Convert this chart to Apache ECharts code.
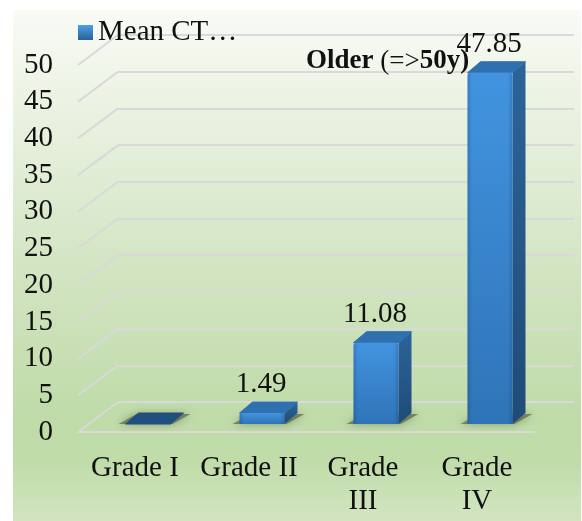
<!DOCTYPE html>
<html>
<head>
<meta charset="utf-8">
<style>
html, body { margin: 0; padding: 0; background: #fff; }
#chart { width: 582px; height: 521px; }
</style>
<script src="https://cdn.jsdelivr.net/npm/echarts@6/dist/echarts.min.js"></script>
</head>
<body>
<div id="chart"></div>
<script>
let categories = ['Grade I', 'Grade II', 'Grade\nIII', 'Grade\nIV'];
let meanCt = [0, 1.49, 11.08, 47.85];
let valueTicks = [0, 5, 10, 15, 20, 25, 30, 35, 40, 45, 50];
let seriesName = 'Mean CT…';

let fontName = '"Liberation Serif", "Times New Roman", serif';
let wallDx = 40, wallDy = -30;   // shift of the back wall
let barDx = 13, barDy = -8;      // bar front face, from the category centre
let depthDx = 13, depthDy = -11; // depth of one bar
let barWidth = 45;
let grad = echarts.graphic.LinearGradient;

let myChart = echarts.init(document.getElementById('chart'));

let renderWall = function(params, api) {
    let p = api.coord([0, api.value(0)]);
    let x = p[0] - api.size([1, 0])[0] / 2;
    return {
        type: 'line',
        shape: { x1: x, y1: p[1], x2: x + wallDx, y2: p[1] + wallDy },
        style: { stroke: '#d9d9d9', lineWidth: 2 }
    };
};

let renderBar = function(params, api) {
    let value = api.value(1);
    let base = api.coord([api.value(0), 0]);
    let top = api.coord([api.value(0), value]);
    let h = base[1] - top[1];
    let x0 = base[0] + barDx - barWidth / 2;
    let x1 = x0 + barWidth;
    let yb = base[1] + barDy;
    let yt = yb - h;
    let children = [];

    // soft shadow on the floor
    children.push({
        type: 'polygon',
        shape: { points: [[x0 - 7, yb], [x1 + 2, yb], [x1 + depthDx + 7, yb + depthDy + 1], [x0 + depthDx - 2, yb + depthDy + 1]] },
        style: { fill: 'rgba(75,85,55,0.6)', shadowBlur: 8, shadowColor: 'rgba(70,80,50,0.8)' }
    });

    if (h < 1) {
        children.push({
            type: 'polygon',
            shape: { points: [[x0, yb], [x1, yb], [x1 + depthDx, yb + depthDy], [x0 + depthDx, yb + depthDy]] },
            style: { fill: '#214f80', stroke: '#214f80', lineWidth: 1, lineJoin: 'round' }
        });
        return { type: 'group', children: children };
    }

    children.push({
        type: 'polygon',
        shape: { points: [[x1, yb], [x1, yt], [x1 + depthDx, yt + depthDy], [x1 + depthDx, yb + depthDy]] },
        style: { fill: new grad(0, 0, 0, 1, [{ offset: 0, color: '#2c6498' }, { offset: 1, color: '#1f4b78' }]) }
    });
    children.push({
        type: 'polygon',
        shape: { points: [[x0, yt], [x1, yt], [x1 + depthDx, yt + depthDy], [x0 + depthDx, yt + depthDy]] },
        style: { fill: '#2f70b0', stroke: '#2f70b0', lineWidth: 1, lineJoin: 'round' }
    });
    children.push({
        type: 'rect',
        shape: { x: x0, y: yt, width: barWidth, height: h, r: [3, 3, 0, 0] },
        style: { fill: new grad(0, 0, 0, 1, [{ offset: 0, color: '#4294e0' }, { offset: 1, color: '#2f74b8' }]) }
    });
    children.push({
        type: 'rect',
        shape: { x: x0, y: yt, width: barWidth, height: h, r: [3, 3, 0, 0] },
        style: {
            fill: new grad(0, 0, 1, 0, [
                { offset: 0, color: 'rgba(10,40,80,0.22)' },
                { offset: 0.1, color: 'rgba(10,40,80,0)' },
                { offset: 0.9, color: 'rgba(10,40,80,0)' },
                { offset: 1, color: 'rgba(10,40,80,0.22)' }
            ])
        }
    });
    children.push({
        type: 'text',
        style: {
            text: String(value),
            x: base[0] + barDx - 1,
            y: yt + depthDy - 3,
            align: 'center',
            verticalAlign: 'bottom',
            fill: '#111',
            font: '29px ' + fontName
        }
    });
    return { type: 'group', children: children };
};

let options = {
    animation: false,
    backgroundColor: '#fff',
    textStyle: { fontFamily: fontName },
    graphic: [
        {
            type: 'rect',
            z: -10,
            shape: { x: 13, y: 10, width: 568, height: 511 },
            style: {
                fill: new grad(0, 0, 0, 1, [
                    { offset: 0, color: '#f9fbf6' },
                    { offset: 0.25, color: '#e6f0dc' },
                    { offset: 0.5, color: '#d3e5c3' },
                    { offset: 0.8, color: '#bfdba8' },
                    { offset: 0.88, color: '#c0dca9' },
                    { offset: 1, color: '#d2e5c0' }
                ])
            }
        },
        {
            type: 'text',
            z: 10,
            x: 306,
            y: 48,
            style: {
                text: '{b|Older }{n|(=>}{b|50y)}',
                rich: {
                    b: { fontFamily: fontName, fontSize: 27, fontWeight: 'bold', fill: '#111' },
                    n: { fontFamily: fontName, fontSize: 27, fill: '#111' }
                }
            }
        }
    ],
    legend: {
        left: 73,
        top: 13,
        data: [seriesName],
        icon: 'rect',
        itemWidth: 15,
        itemHeight: 15,
        itemGap: 7,
        textStyle: { fontFamily: fontName, fontSize: 29, color: '#111' }
    },
    grid: [
        { left: 78, top: 65, width: 456, height: 367 },
        { left: 118, top: 35, width: 456, height: 367 }
    ],
    xAxis: [
        {
            type: 'category',
            gridIndex: 0,
            data: categories,
            axisLine: { lineStyle: { color: '#d9d9d9', width: 2 } },
            axisTick: { show: false },
            axisLabel: { color: '#111', fontFamily: fontName, fontSize: 29, margin: 20, lineHeight: 33, interval: 0 }
        },
        {
            type: 'category',
            gridIndex: 1,
            data: categories,
            axisLine: { show: false },
            axisTick: { show: false },
            axisLabel: { show: false }
        }
    ],
    yAxis: [
        {
            type: 'value',
            gridIndex: 0,
            min: 0,
            max: 50,
            interval: 5,
            axisLine: { show: false },
            axisTick: { show: false },
            splitLine: { show: false },
            axisLabel: { color: '#111', fontFamily: fontName, fontSize: 29, margin: 25 }
        },
        {
            type: 'value',
            gridIndex: 1,
            min: 0,
            max: 50,
            interval: 5,
            axisLine: { show: false },
            axisTick: { show: false },
            axisLabel: { show: false },
            splitLine: { show: true, lineStyle: { color: '#d9d9d9', width: 2 } }
        }
    ],
    series: [
        {
            type: 'custom',
            name: 'wall',
            xAxisIndex: 0,
            yAxisIndex: 0,
            renderItem: renderWall,
            encode: { y: 0 },
            data: valueTicks.map(function(v) { return [v]; }),
            silent: true,
            z: 1
        },
        {
            type: 'custom',
            name: seriesName,
            xAxisIndex: 0,
            yAxisIndex: 0,
            renderItem: renderBar,
            encode: { x: 0, y: 1 },
            itemStyle: {
                color: new grad(0, 0, 0, 1, [{ offset: 0, color: '#4aa0e8' }, { offset: 1, color: '#2a6298' }])
            },
            data: meanCt.map(function(v, i) { return [i, v]; }),
            z: 3
        }
    ]
};

myChart.setOption(options);
</script>
</body>
</html>
